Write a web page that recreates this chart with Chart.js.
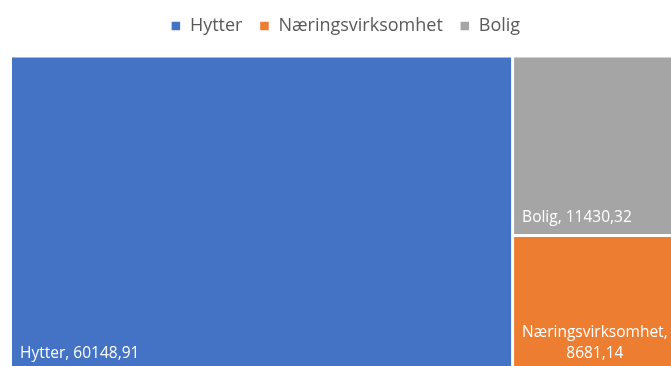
<!DOCTYPE html>
<html>
<head>
<meta charset="utf-8">
<script src="https://cdn.jsdelivr.net/npm/chart.js@4.4.1/dist/chart.umd.min.js"></script>
<style>
  html, body { margin: 0; padding: 0; background: #fff; overflow: hidden; }
  #wrap { width: 684px; height: 376px; }
</style>
</head>
<body>
<div id="wrap"><canvas id="c"></canvas></div>
<script>
// Treemap of areas by category
const categories = ['Hytter', 'Næringsvirksomhet', 'Bolig'];
const values = [60148.91, 8681.14, 11430.32];
const colors = ['#4472C4', '#ED7D31', '#A5A5A5'];

const fmt = v => v.toFixed(2).replace('.', ',');

// Slice-and-dice layout in unit space: the largest tile takes a full-height
// column, the rest are stacked (largest on top) in the remaining column.
function layout(vals) {
  const order = vals.map((v, i) => i).sort((a, b) => vals[b] - vals[a]);
  const total = vals.reduce((s, v) => s + v, 0);
  const rects = [];
  const first = order[0];
  const split = vals[first] / total;
  rects[first] = { x0: 0, x1: split, y0: 0, y1: 1 };
  const rest = order.slice(1);
  const restTotal = rest.reduce((s, i) => s + vals[i], 0);
  let top = 1;
  rest.forEach(i => {
    const h = vals[i] / restTotal;
    rects[i] = { x0: split, x1: 1, y0: top - h, y1: top };
    top -= h;
  });
  return rects;
}

// Places each bar element on its treemap tile via the chart's scales
const treemapPlugin = {
  id: 'treemapLayout',
  beforeInit(chart) {
    const fit = chart.legend.fit;
    chart.legend.fit = function () {
      fit.call(this);
      this.height += 11;
    };
  },
  afterDatasetsUpdate(chart) {
    const xs = chart.scales.x, ys = chart.scales.y;
    const rects = layout(values);
    chart.data.datasets.forEach((ds, di) => {
      const el = chart.getDatasetMeta(di).data[0];
      if (!el) return;
      const r = rects[di];
      const left = xs.getPixelForValue(r.x0), right = xs.getPixelForValue(r.x1);
      const top = ys.getPixelForValue(r.y1), bottom = ys.getPixelForValue(r.y0);
      el.x = (left + right) / 2;
      el.width = right - left;
      el.y = top;
      el.base = bottom;
      el.horizontal = false;
    });
  },
  afterDatasetsDraw(chart) {
    const ctx = chart.ctx;
    ctx.save();
    ctx.font = "15.5px 'Open Sans'";
    ctx.fillStyle = '#ffffff';
    ctx.textBaseline = 'alphabetic';
    ctx.textAlign = 'left';
    chart.data.datasets.forEach((ds, di) => {
      const el = chart.getDatasetMeta(di).data[0];
      if (!el) return;
      const left = el.x - el.width / 2, right = el.x + el.width / 2;
      const bottom = Math.max(el.y, el.base);
      const pad = 9.5;
      const full = ds.label + ', ' + fmt(ds.data[0].y);
      let lines = [full];
      if (ctx.measureText(full).width > right - left - 2 * pad) {
        lines = [ds.label + ',', fmt(ds.data[0].y)];
      }
      const widths = lines.map(l => ctx.measureText(l).width);
      const block = Math.max(...widths);
      const lh = 21;
      lines.forEach((l, li) => {
        const y = bottom - 14 - (lines.length - 1 - li) * lh;
        ctx.fillText(l, left + pad + (block - widths[li]) / 2, y);
      });
    });
    ctx.restore();
  }
};

new Chart(document.getElementById('c'), {
  type: 'bar',
  data: {
    datasets: categories.map((c, i) => ({
      label: c,
      data: [{ x: 0.5, y: values[i] }],
      backgroundColor: colors[i],
      borderColor: '#ffffff',
      borderWidth: 1.5,
      borderSkipped: false,
      inflateAmount: 0
    }))
  },
  options: {
    responsive: true,
    maintainAspectRatio: false,
    animation: false,
    events: [],
    layout: { padding: { left: 10.5, right: 3.5, top: 0, bottom: 4 } },
    scales: {
      x: { type: 'linear', min: 0, max: 1, offset: false, display: false },
      y: { type: 'linear', min: 0, max: 1, offset: false, display: false }
    },
    plugins: {
      tooltip: { enabled: false },
      legend: {
        position: 'top',
        align: 'center',
        labels: {
          boxWidth: 10,
          boxHeight: 10,
          padding: 17,
          color: '#595959',
          font: { family: "'Open Sans'", size: 18 }
        }
      }
    }
  },
  plugins: [treemapPlugin]
});
</script>
</body>
</html>
